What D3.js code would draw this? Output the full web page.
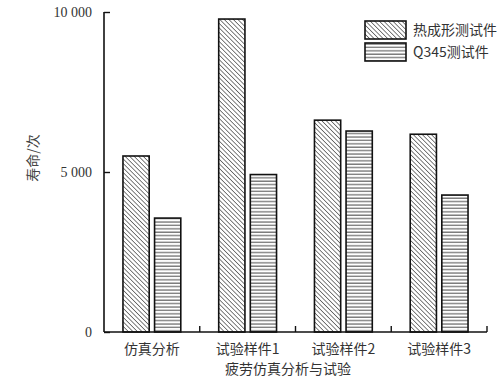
<!DOCTYPE html>
<html>
<head>
<meta charset="utf-8">
<script src="https://cdn.jsdelivr.net/npm/d3@7"></script>
<style>
  body { margin: 0; background: #fff; }
  svg { display: block; }
</style>
</head>
<body>
<div id="chart"></div>
<script>
// data
const categories = ["仿真分析", "试验样件1", "试验样件2", "试验样件3"];
const seriesNames = ["热成形测试件", "Q345测试件"];
const hotFormed = [5500, 9780, 6620, 6180];
const q345 = [3560, 4920, 6280, 4280];
const yTicks = [0, 5000, 10000];
const yTickLabels = ["0", "5 000", "10 000"];

const width = 500, height = 387;
const margin = {left: 104, right: 13, top: 12, bottom: 55};
const plotBottom = height - margin.bottom;

const svg = d3.select("#chart").append("svg")
    .attr("width", width)
    .attr("height", height);

const defs = svg.append("defs");
// diagonal hatching, running top-left to bottom-right
let diag = defs.append("pattern")
    .attr("id", "diag")
    .attr("patternUnits", "userSpaceOnUse")
    .attr("width", 3.2).attr("height", 3.2)
    .attr("patternTransform", "rotate(-45)");
diag.append("rect").attr("width", 3.2).attr("height", 3.2).attr("fill", "#fff");
diag.append("line")
    .attr("x1", 0).attr("y1", 0).attr("x2", 0).attr("y2", 3.2)
    .attr("stroke", "#555").attr("stroke-width", 1.5);
// horizontal lines
let horiz = defs.append("pattern")
    .attr("id", "horiz")
    .attr("patternUnits", "userSpaceOnUse")
    .attr("width", 6).attr("height", 3.4);
horiz.append("rect").attr("width", 6).attr("height", 3.4).attr("fill", "#fff");
horiz.append("line")
    .attr("x1", 0).attr("y1", 1).attr("x2", 6).attr("y2", 1)
    .attr("stroke", "#666").attr("stroke-width", 1.2);

const x = d3.scaleBand()
    .domain(categories)
    .range([margin.left, 487])
    .paddingInner(0).paddingOuter(0);

const y = d3.scaleLinear()
    .domain([0, 10000])
    .range([plotBottom, margin.top]);

const inner = d3.scaleBand()
    .domain(seriesNames)
    .range([0, x.bandwidth()])
    .paddingInner(0.17)
    .paddingOuter(0.6);

const rows = categories.map((c, i) => ({cat: c, values: [hotFormed[i], q345[i]]}));
const fills = ["url(#diag)", "url(#horiz)"];

const groups = svg.append("g").selectAll("g")
    .data(rows)
    .enter().append("g")
    .attr("transform", d => "translate(" + x(d.cat) + ",0)");

groups.selectAll("rect")
    .data(d => d.values.map((v, k) => ({name: seriesNames[k], v: v, k: k})))
    .enter().append("rect")
    .attr("x", d => inner(d.name))
    .attr("width", inner.bandwidth())
    .attr("y", d => y(d.v))
    .attr("height", d => plotBottom - y(d.v))
    .attr("fill", d => fills[d.k])
    .attr("stroke", "#111")
    .attr("stroke-width", 1.6);

// y axis
const yAxis = d3.axisLeft(y)
    .tickValues(yTicks)
    .tickSize(-6)
    .tickPadding(12)
    .tickFormat((d, i) => yTickLabels[i]);

const yg = svg.append("g")
    .attr("transform", "translate(" + margin.left + ",0)")
    .call(yAxis);
yg.select(".domain").attr("stroke", "#111").attr("stroke-width", 1.6)
    .attr("d", "M" + 0 + "," + y(10000) + "V" + plotBottom);
yg.selectAll(".tick line").attr("stroke", "#111").attr("stroke-width", 1.4);
yg.selectAll(".tick text")
    .attr("font-family", "'Liberation Serif', 'Times New Roman', serif")
    .attr("font-size", 14)
    .attr("fill", "#333");

// x axis with ticks at band edges
const xg = svg.append("g")
    .attr("transform", "translate(0," + plotBottom + ")");
xg.append("line")
    .attr("x1", margin.left).attr("x2", 487)
    .attr("y1", 0).attr("y2", 0)
    .attr("stroke", "#111").attr("stroke-width", 1.6);
xg.selectAll(".edge")
    .data(categories)
    .enter().append("line")
    .attr("class", "edge")
    .attr("x1", d => x(d) + x.bandwidth())
    .attr("x2", d => x(d) + x.bandwidth())
    .attr("y1", 0).attr("y2", -6)
    .attr("stroke", "#111").attr("stroke-width", 1.4);
xg.selectAll(".lbl")
    .data(categories)
    .enter().append("text")
    .attr("class", "lbl")
    .attr("x", d => x(d) + x.bandwidth() / 2)
    .attr("y", 22)
    .attr("text-anchor", "middle")
    .attr("font-family", "'Noto Sans CJK SC', sans-serif")
    .attr("font-size", 14)
    .attr("fill", "#333")
    .text(d => d);

// axis titles
svg.append("text")
    .attr("x", 288).attr("y", 374)
    .attr("text-anchor", "middle")
    .attr("font-family", "'Noto Sans CJK SC', sans-serif")
    .attr("font-size", 14)
    .attr("fill", "#333")
    .text("疲劳仿真分析与试验");

svg.append("text")
    .attr("transform", "translate(38,158) rotate(-90)")
    .attr("text-anchor", "middle")
    .attr("font-family", "'Noto Sans CJK SC', sans-serif")
    .attr("font-size", 14)
    .attr("fill", "#444")
    .text("寿命/次");

// legend
const legend = svg.append("g").attr("transform", "translate(365,21)");
const items = legend.selectAll("g")
    .data(seriesNames)
    .enter().append("g")
    .attr("transform", (d, i) => "translate(0," + i * 22 + ")");
items.append("rect")
    .attr("width", 41).attr("height", 18)
    .attr("fill", (d, i) => fills[i])
    .attr("stroke", "#111").attr("stroke-width", 1.6);
items.append("text")
    .attr("x", 48).attr("y", 14)
    .attr("font-family", "'Noto Sans CJK SC', sans-serif")
    .attr("font-size", 14)
    .attr("fill", "#333")
    .text(d => d);
</script>
</body>
</html>
